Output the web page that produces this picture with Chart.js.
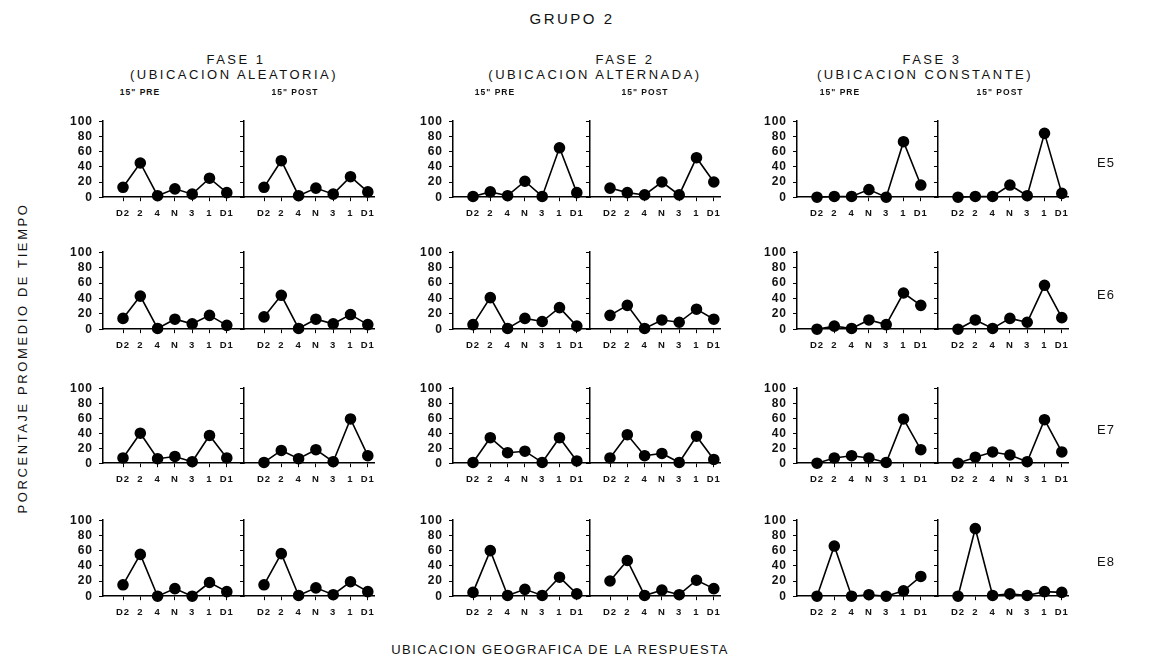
<!DOCTYPE html>
<html>
<head>
<meta charset="utf-8">
<script src="https://cdn.jsdelivr.net/npm/chart.js@4/dist/chart.umd.min.js"></script>
<style>
  body { margin: 0; background: #fff; }
  #page { position: relative; width: 1151px; height: 659px; overflow: hidden; font-family: "Liberation Sans", Arial, sans-serif; color: #111; }
  .txt { position: absolute; transform: translate(-50%, -50%); white-space: nowrap; }
  .big { font-size: 13px; letter-spacing: 2.5px; }
  .sub { font-size: 8.5px; font-weight: bold; letter-spacing: 1px; }
  canvas { position: absolute; }
</style>
</head>
<body>
<div id="page"></div>
<script>
// categories on every x axis and ticks on every y axis
const categories = ["D2", "2", "4", "N", "3", "1", "D1"];
const yTicks = [0, 20, 40, 60, 80, 100];
const rowNames = ["E5", "E6", "E7", "E8"];
const phaseNames = ["FASE 1", "FASE 2", "FASE 3"];
const phaseSubs = ["(UBICACION ALEATORIA)", "(UBICACION ALTERNADA)", "(UBICACION CONSTANTE)"];

// values (% of time)
const E5_F1_PRE = [13, 45, 2, 11, 4, 25, 6];
const E5_F1_POST = [13, 48, 2, 12, 4, 27, 7];
const E5_F2_PRE = [1, 7, 2, 21, 1, 65, 6];
const E5_F2_POST = [12, 6, 3, 20, 3, 52, 20];
const E5_F3_PRE = [0, 1, 1, 10, 0, 73, 16];
const E5_F3_POST = [0, 1, 1, 16, 2, 84, 5];

const E6_F1_PRE = [14, 43, 1, 13, 7, 18, 5];
const E6_F1_POST = [16, 44, 1, 13, 7, 19, 6];
const E6_F2_PRE = [6, 41, 1, 14, 10, 28, 4];
const E6_F2_POST = [18, 31, 1, 12, 9, 26, 13];
const E6_F3_PRE = [0, 4, 1, 12, 6, 47, 31];
const E6_F3_POST = [0, 12, 1, 14, 9, 57, 15];

const E7_F1_PRE = [7, 40, 6, 9, 2, 37, 7];
const E7_F1_POST = [1, 17, 6, 18, 2, 59, 10];
const E7_F2_PRE = [1, 34, 14, 16, 1, 34, 3];
const E7_F2_POST = [7, 38, 10, 13, 1, 36, 5];
const E7_F3_PRE = [0, 7, 10, 7, 1, 59, 18];
const E7_F3_POST = [0, 8, 15, 11, 2, 58, 15];

const E8_F1_PRE = [15, 55, 0, 10, 0, 18, 6];
const E8_F1_POST = [15, 56, 1, 11, 2, 19, 6];
const E8_F2_PRE = [5, 60, 1, 9, 1, 25, 3];
const E8_F2_POST = [20, 47, 1, 8, 2, 21, 10];
const E8_F3_PRE = [0, 66, 0, 2, 0, 7, 26];
const E8_F3_POST = [0, 89, 1, 3, 1, 6, 5];

const grid = [
  [[E5_F1_PRE, E5_F1_POST], [E5_F2_PRE, E5_F2_POST], [E5_F3_PRE, E5_F3_POST]],
  [[E6_F1_PRE, E6_F1_POST], [E6_F2_PRE, E6_F2_POST], [E6_F3_PRE, E6_F3_POST]],
  [[E7_F1_PRE, E7_F1_POST], [E7_F2_PRE, E7_F2_POST], [E7_F3_PRE, E7_F3_POST]],
  [[E8_F1_PRE, E8_F1_POST], [E8_F2_PRE, E8_F2_POST], [E8_F3_PRE, E8_F3_POST]],
];

// layout
const preAxisX = [103, 453, 797];
const postAxisX = [244, 590, 938];
const rowTop = [121, 252, 388, 520];
const rowZero = [197, 329, 463, 596];
const UNIT = 17.3, FIRST = 20, POST_W = 130;
const YW = 38, XH = 26, PADT = 8, PADR = 7;

const page = document.getElementById("page");

// the scanned figure has widely spaced glyphs
const spacing = {
  id: "spacing",
  beforeDraw: (chart) => { chart.ctx.letterSpacing = "1px"; },
};

function addText(text, x, y, cls, extra) {
  const d = document.createElement("div");
  d.className = "txt " + cls;
  d.textContent = text;
  d.style.left = x + "px";
  d.style.top = y + "px";
  if (extra) d.style.cssText += extra;
  page.appendChild(d);
}

function panel(axisX, top, zero, width, values, showY) {
  const c = document.createElement("canvas");
  const w = YW + width + PADR, h = PADT + (zero - top) + XH;
  c.width = w; c.height = h;
  page.appendChild(c);
  const xMin = -FIRST / UNIT;
  const ch = new Chart(c, {
    type: "line",
    plugins: [spacing],
    data: {
      datasets: [{
        data: values.map((v, i) => ({ x: i, y: v })),
        borderColor: "#000",
        borderWidth: 1.6,
        backgroundColor: "#000",
        pointBackgroundColor: "#000",
        pointBorderColor: "#000",
        pointRadius: 5,
        tension: 0,
        clip: false,
      }],
    },
    options: {
      responsive: false,
      maintainAspectRatio: false,
      animation: false,
      devicePixelRatio: 1,
      layout: { padding: { top: PADT, right: PADR, left: 0, bottom: 0 } },
      plugins: { legend: { display: false }, tooltip: { enabled: false } },
      scales: {
        x: {
          type: "linear",
          min: xMin,
          max: xMin + width / UNIT,
          afterBuildTicks: (s) => { s.ticks = categories.map((_, i) => ({ value: i })); },
          afterFit: (s) => { s.height = XH; },
          ticks: {
            autoSkip: false, maxRotation: 0, padding: 6,
            color: "#111", font: { family: "Liberation Sans", size: 9.5, weight: "bold" },
            callback: (v) => categories[v],
          },
          grid: { drawOnChartArea: false, drawTicks: true, tickLength: 4, color: "#000" },
          border: { color: "#000", width: 1.5 },
        },
        y: {
          min: 0, max: 100,
          afterBuildTicks: (s) => { s.ticks = yTicks.map((v) => ({ value: v })); },
          afterFit: (s) => { s.width = YW; },
          ticks: {
            autoSkip: false, padding: 6,
            color: "#111", font: { family: "Liberation Sans", size: 12, weight: "bold" },
            callback: (v) => (showY ? String(v) : ""),
          },
          grid: { drawOnChartArea: false, drawTicks: true, tickLength: 4, color: "#000" },
          border: { color: "#000", width: 1.5 },
        },
      },
    },
  });
  // make the plot area exactly the wanted size, then place it
  let a = ch.chartArea;
  const dh = (zero - top) - (a.bottom - a.top);
  const dw = width - (a.right - a.left);
  if (dh !== 0 || dw !== 0) ch.resize(w + dw, h + dh);
  a = ch.chartArea;
  c.style.left = (axisX - a.left) + "px";
  c.style.top = (top - a.top) + "px";
}

grid.forEach((row, r) => {
  row.forEach((pair, p) => {
    panel(preAxisX[p], rowTop[r], rowZero[r], postAxisX[p] - preAxisX[p], pair[0], true);
    panel(postAxisX[p], rowTop[r], rowZero[r], POST_W, pair[1], false);
  });
  addText(rowNames[r], 1106, (rowTop[r] + rowZero[r]) / 2 + 3, "big", "letter-spacing:1px;");
});

// titles
addText("GRUPO 2", 572, 18, "big", "font-size:15px;letter-spacing:2.5px;");
const phaseCx = [236, 625, 932];
const subCx = [234, 595, 925];
const preCx = [140, 495, 840];
const postCx = [295, 645, 1000];
phaseNames.forEach((n, p) => {
  addText(n, phaseCx[p], 59, "big");
  addText(phaseSubs[p], subCx[p], 74, "big");
  addText('15" PRE', preCx[p], 92, "sub");
  addText('15" POST', postCx[p], 92, "sub");
});
addText("PORCENTAJE PROMEDIO DE TIEMPO", 22, 358, "big", "letter-spacing:2.6px;transform:translate(-50%,-50%) rotate(-90deg);");
addText("UBICACION GEOGRAFICA DE LA RESPUESTA", 560, 649, "big", "letter-spacing:1.5px;");
</script>
</body>
</html>
